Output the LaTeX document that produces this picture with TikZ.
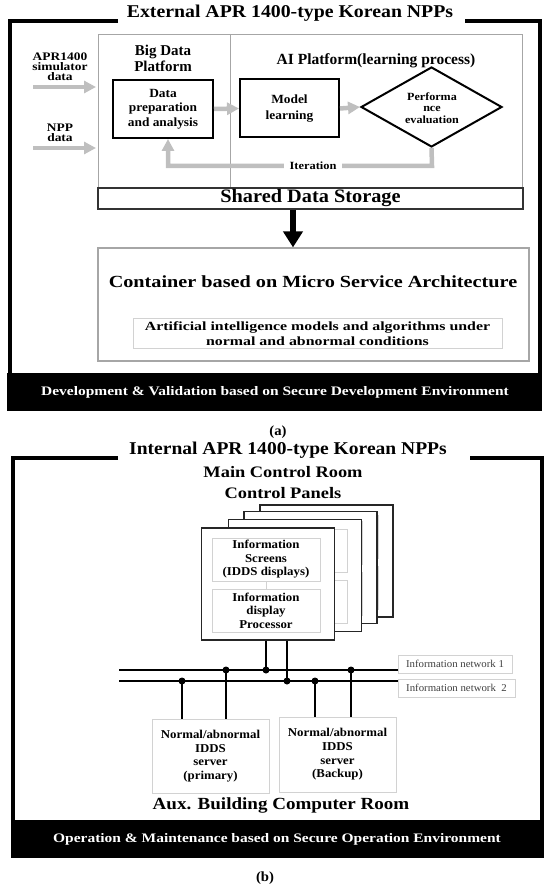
\documentclass[tikz,border=0pt]{standalone}
\usepackage{fontspec}
\setmainfont{Liberation Serif}
\usetikzlibrary{arrows.meta,shapes.geometric}
\newcommand{\fz}[3]{\fontsize{#1}{#2}\selectfont\addfontfeatures{FakeStretch=#3}}
\begin{document}
\begin{tikzpicture}[x=1pt,y=-1pt,
  txt/.style={inner sep=0pt, align=center, font=\bfseries},
  frameline/.style={line width=4pt, line join=miter},
  grayarr/.style={draw=gray!50, line width=4.5pt, -{Triangle[length=12pt,width=12pt]}},
  thickbox/.style={draw, line width=2pt, inner sep=0pt},
  lightbox/.style={draw=gray!35, line width=0.8pt, fill=white, inner sep=0pt},
  panelbox/.style={draw=black!85, line width=1.3pt, fill=white, inner sep=0pt, minimum width=133pt, minimum height=112pt},
  netline/.style={line width=2.8pt},
  drop/.style={line width=2.5pt},
  dot/.style={circle, fill, inner sep=0pt, minimum size=7pt}
]
\useasboundingbox (0,0) rectangle (548,893);

% ================= (a) =================
\node[txt, font=\bfseries\fz{18}{20}{1.10}] (ta) at (290,13) {External APR 1400-type Korean NPPs};
\draw[frameline] (118,21.5) -- (9.5,21.5) -- (9.5,373);
\draw[frameline] (465,21.5) -- (539.5,21.5) -- (539.5,373);
\fill (7,373) rectangle (541.5,411);
\node[txt, text=white, font=\bfseries\fz{13}{14}{1.19}] (bara) at (275,392) {Development \& Validation based on Secure Development Environment};

% inner platform frame
\draw[gray!70, line width=0.9pt] (98,34) rectangle (522,188);
\draw[gray!70, line width=0.9pt] (230,34) -- (230,188);
\node[draw=black!80, line width=1.1pt, minimum width=425pt, minimum height=21pt, inner sep=0pt,
      font=\bfseries\fz{19}{21}{1.07}] (storage) at (310.5,198.5) {Shared Data Storage};

\node[txt, font=\bfseries\fz{15}{16}{1.0}] (bdp) at (163,58) {Big Data\\Platform};
\node[txt, font=\bfseries\fz{15.5}{17}{1.0}] (aip) at (376,61) {AI Platform(learning process)};

\node[thickbox, minimum width=100pt, minimum height=58pt, font=\bfseries\fz{12.5}{14.5}{1.07}, align=center] (prep) at (163,109) {Data\\preparation\\and analysis};
\node[thickbox, minimum width=99pt, minimum height=58pt, font=\bfseries\fz{12.5}{15.5}{1.07}, align=center] (model) at (289.5,108.5) {Model\\learning};
\node[diamond, draw, line width=2pt, minimum width=141pt, minimum height=80pt, inner sep=0pt] (perf) at (431.5,107) {};
\node[txt, font=\bfseries\fz{11}{11.5}{1.1}] (perft) at (432,108) {Performa\\nce\\evaluation};

\draw[grayarr] (prep.east) -- (model.west);
\draw[grayarr] (model.east) -- (perf.west);
\coordinate (itR) at (432,166);
\coordinate (itL) at (168,166);
\draw[grayarr] (perf.south) -- (itR) -- (itL) -- (prep.south -| itL);
\node[txt, fill=white, inner xsep=6pt, inner ysep=2pt, font=\bfseries\fz{11}{12}{1.13}] (iter) at (313,166) {Iteration};

% inputs
\node[txt, font=\bfseries\fz{11.5}{10}{1.17}] (apr) at (60,67) {APR1400\\simulator\\data};
\node[txt, font=\bfseries\fz{11.5}{10.5}{1.17}] (npp) at (60,133) {NPP\\data};
\coordinate (in1) at (33,87);
\coordinate (in2) at (33,148);
\draw[grayarr] (in1) -- (96,87);
\draw[grayarr] (in2) -- (96,148);

% container
\node[draw=gray!70, line width=1.2pt, minimum width=431pt, minimum height=113pt, inner sep=0pt] (cont) at (313.5,304.5) {};
\draw[line width=6pt, -{Triangle[length=16pt,width=19pt]}] (storage.south -| 293,0) -- (cont.north -| 293,0);
\node[txt, font=\bfseries\fz{17}{18}{1.19}] (contt) at (313,282) {Container based on Micro Service Architecture};
\node[lightbox, minimum width=369pt, minimum height=30pt, align=center, font=\bfseries\fz{12.5}{15}{1.27}] (aimod) at (317.5,333.5) {Artificial intelligence models and algorithms under\\normal and abnormal conditions};

\node[txt, font=\bfseries\fz{14}{15}{1.05}] (capa) at (278,432) {(a)};

% ================= (b) =================
\node[txt, font=\bfseries\fz{18}{20}{1.085}] (tb) at (288,450) {Internal APR 1400-type Korean NPPs};
\draw[frameline] (118,458) -- (12.5,458) -- (12.5,820);
\draw[frameline] (470,458) -- (541.5,458) -- (541.5,820);
\fill (10.5,820) rectangle (543.5,858);
\node[txt, text=white, font=\bfseries\fz{13}{14}{1.19}] (barb) at (277,839) {Operation \& Maintenance based on Secure Operation Environment};

\node[txt, font=\bfseries\fz{16}{21}{1.15}] (mcr) at (283,482.5) {Main Control Room\\Control Panels};

% stacked panels
\node[panelbox] (p4) at (326.5,561) {};
\node[lightbox, minimum width=108pt, minimum height=43pt] at ([shift={(-2,-24.5)}]p4.center) {};
\node[lightbox, minimum width=108pt, minimum height=43pt] at ([shift={(-2,26.5)}]p4.center) {};
\node[panelbox] (p3) at (310.5,567.5) {};
\node[lightbox, minimum width=108pt, minimum height=43pt] at ([shift={(-2,-24.5)}]p3.center) {};
\node[lightbox, minimum width=108pt, minimum height=43pt] at ([shift={(-2,26.5)}]p3.center) {};
\node[panelbox] (p2) at (295,575.5) {};
\node[lightbox, minimum width=108pt, minimum height=43pt] at ([shift={(-2,-24.5)}]p2.center) {};
\node[lightbox, minimum width=108pt, minimum height=43pt] at ([shift={(-2,26.5)}]p2.center) {};
\node[panelbox] (p1) at (268,584) {};
\node[lightbox, minimum width=108pt, minimum height=43pt, align=center, font=\bfseries\fz{12}{13.5}{1.07}] (scr) at ([shift={(-2,-24.5)}]p1.center) {Information\\Screens\\(IDDS displays)};
\node[lightbox, minimum width=108pt, minimum height=43pt, align=center, font=\bfseries\fz{12}{13.5}{1.07}] (proc) at ([shift={(-2,26.5)}]p1.center) {Information\\display\\Processor};
\draw[gray!35, line width=0.8pt] (scr.south) -- (proc.north);

% networks
\node[lightbox, minimum width=114pt, minimum height=18pt, font=\fz{10.5}{12}{1.03}, text=black!75] (lab1) at (455,664) {Information network 1};
\node[lightbox, minimum width=117pt, minimum height=18pt, font=\fz{10.5}{12}{1.03}, text=black!75] (lab2) at (456.5,688) {Information network~~2};
\coordinate (n1L) at (119,670);
\coordinate (n2L) at (119,681);
\draw[netline] (n1L) -- (n1L -| lab1.west);
\draw[netline] (n2L) -- (n2L -| lab2.west);

% servers
\node[lightbox, minimum width=117pt, minimum height=74pt, align=center, font=\bfseries\fz{12}{13.7}{1.07}] (srv1) at (210.5,756) {Normal/abnormal\\IDDS\\server\\(primary)};
\node[lightbox, minimum width=117pt, minimum height=75pt, align=center, font=\bfseries\fz{12}{13.7}{1.07}] (srv2) at (337.5,754.5) {Normal/abnormal\\IDDS\\server\\(Backup)};

% junctions
\coordinate (ja) at (266,670);
\coordinate (jb) at (287,681);
\coordinate (jc) at (226,670);
\coordinate (jd) at (182,681);
\coordinate (je) at (351,670);
\coordinate (jf) at (315,681);
\draw[drop] (p1.south -| ja) -- (ja);
\draw[drop] (p1.south -| jb) -- (jb);
\draw[drop] (jc) -- (srv1.north -| jc);
\draw[drop] (jd) -- (srv1.north -| jd);
\draw[drop] (je) -- (srv2.north -| je);
\draw[drop] (jf) -- (srv2.north -| jf);
\foreach \j in {ja,jb,jc,jd,je,jf} \node[dot] at (\j) {};

\node[txt, font=\bfseries\fz{17}{18}{1.12}] (aux) at (281,805) {Aux. Building Computer Room};
\node[txt, font=\bfseries\fz{14}{15}{1.05}] (capb) at (265,878) {(b)};
\end{tikzpicture}
\end{document}
